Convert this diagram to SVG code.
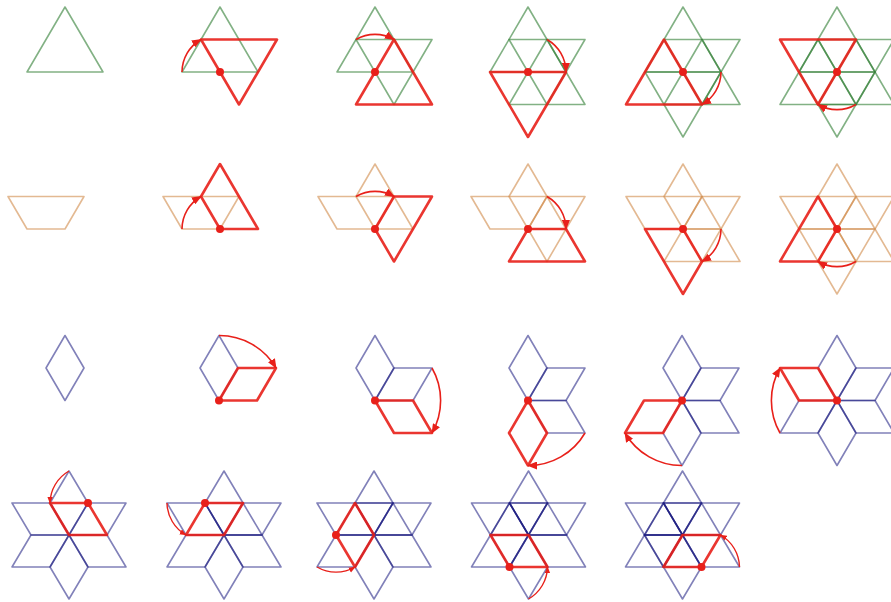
<svg xmlns="http://www.w3.org/2000/svg" width="891" height="602" viewBox="0 0 891 602">
<style>
.g{fill:none;stroke:#2e7d32;stroke-opacity:.6;stroke-width:1.6;stroke-linejoin:round}
.t{fill:none;stroke:#d08a4a;stroke-opacity:.6;stroke-width:1.6;stroke-linejoin:round}
.b{fill:none;stroke:#1a1a80;stroke-opacity:.55;stroke-width:1.6;stroke-linejoin:round}
.r{fill:none;stroke:#e8201a;stroke-opacity:.9;stroke-width:2.6;stroke-linejoin:round}
.d{fill:#e8201a}
.a{fill:none;stroke:#e8201a;stroke-width:1.6;marker-end:url(#ah)}
.a4{fill:none;stroke:#e8201a;stroke-width:1.4;marker-end:url(#ah4)}
</style>
<defs>
<marker id="ah" viewBox="0 0 10 8" refX="9" refY="4" markerWidth="10" markerHeight="8" markerUnits="userSpaceOnUse" orient="auto"><path d="M0,0L10,4L0,8z" fill="#e8201a"/></marker>
<marker id="ah4" viewBox="0 0 10 8" refX="9" refY="4" markerWidth="7" markerHeight="6" markerUnits="userSpaceOnUse" orient="auto"><path d="M0,0L10,4L0,8z" fill="#e8201a"/></marker>
<polygon id="t0" points="0,-65 -38,0 38,0"/>
<polygon id="t1" points="57,-32.5 -19,-32.5 19,32.5"/>
<polygon id="t2" points="57,32.5 19,-32.5 -19,32.5"/>
<polygon id="t3" points="0,65 38,0 -38,0"/>
<polygon id="t4" points="-57,32.5 19,32.5 -19,-32.5"/>
<polygon id="t5" points="-57,-32.5 -19,32.5 19,-32.5"/>
<polygon id="s0" points="-57,-32.5 19,-32.5 0,0 -38,0"/>
<polygon id="s1" points="0,-65 38,0 0,0 -19,-32.5"/>
<polygon id="s2" points="57,-32.5 19,32.5 0,0 19,-32.5"/>
<polygon id="s3" points="57,32.5 -19,32.5 0,0 38,0"/>
<polygon id="s4" points="0,65 -38,0 0,0 19,32.5"/>
<polygon id="s5" points="-57,32.5 -19,-32.5 0,0 -19,32.5"/>
<polygon id="q0" points="0,0 -19,-32.5 0,-65 19,-32.5"/>
<polygon id="q1" points="0,0 19,-32.5 57,-32.5 38,0"/>
<polygon id="q2" points="0,0 38,0 57,32.5 19,32.5"/>
<polygon id="q3" points="0,0 19,32.5 0,65 -19,32.5"/>
<polygon id="q4" points="0,0 -19,32.5 -57,32.5 -38,0"/>
<polygon id="q5" points="0,0 -38,0 -57,-32.5 -19,-32.5"/>
<polygon id="w0" points="0,0 -19,-32 0,-64 19,-32"/>
<polygon id="w1" points="0,0 19,-32 57,-32 38,0"/>
<polygon id="w2" points="0,0 38,0 57,32 19,32"/>
<polygon id="w3" points="0,0 19,32 0,64 -19,32"/>
<polygon id="w4" points="0,0 -19,32 -57,32 -38,0"/>
<polygon id="w5" points="0,0 -38,0 -57,-32 -19,-32"/>
<g id="star"><use href="#w0"/><use href="#w1"/><use href="#w2"/><use href="#w3"/><use href="#w4"/><use href="#w5"/></g>
<polygon id="p1" points="-19,-32 19,-32 38,0 0,0"/>
<polygon id="p2" points="-19,-32 19,-32 0,0 -38,0"/>
<polygon id="p3" points="-19,-32 0,0 -19,32 -38,0"/>
<polygon id="p4" points="-38,0 0,0 19,32 -19,32"/>
<polygon id="p5" points="0,0 38,0 19,32 -19,32"/>
</defs>

<!-- Row 1: triangles -->
<g id="r1p1" transform="translate(65,72)"><use href="#t0" class="g"/></g>
<g id="r1p2" transform="translate(220,72)"><use href="#t0" class="g"/><use href="#t1" class="r"/><circle r="4" class="d"/></g>
<g id="r1p3" transform="translate(375,72)"><use href="#t0" class="g"/><use href="#t1" class="g"/><use href="#t2" class="r"/><circle r="4" class="d"/></g>
<g id="r1p4" transform="translate(528,72)"><use href="#t0" class="g"/><use href="#t1" class="g"/><use href="#t2" class="g"/><use href="#t3" class="r"/><circle r="4" class="d"/></g>
<g id="r1p5" transform="translate(683,72)"><use href="#t0" class="g"/><use href="#t1" class="g"/><use href="#t2" class="g"/><use href="#t3" class="g"/><use href="#t4" class="r"/><circle r="4" class="d"/></g>
<g id="r1p6" transform="translate(837,72)"><use href="#t0" class="g"/><use href="#t1" class="g"/><use href="#t2" class="g"/><use href="#t3" class="g"/><use href="#t4" class="g"/><use href="#t5" class="r"/><circle r="4" class="d"/></g>

<!-- Row 2: trapezoids -->
<g id="r2p1" transform="translate(65,229)"><use href="#s0" class="t"/></g>
<g id="r2p2" transform="translate(220,229)"><use href="#s0" class="t"/><use href="#s1" class="r"/><circle r="4" class="d"/></g>
<g id="r2p3" transform="translate(375,229)"><use href="#s0" class="t"/><use href="#s1" class="t"/><use href="#s2" class="r"/><circle r="4" class="d"/></g>
<g id="r2p4" transform="translate(528,229)"><use href="#s0" class="t"/><use href="#s1" class="t"/><use href="#s2" class="t"/><use href="#s3" class="r"/><circle r="4" class="d"/></g>
<g id="r2p5" transform="translate(683,229)"><use href="#s0" class="t"/><use href="#s1" class="t"/><use href="#s2" class="t"/><use href="#s3" class="t"/><use href="#s4" class="r"/><circle r="4" class="d"/></g>
<g id="r2p6" transform="translate(837,229)"><use href="#s0" class="t"/><use href="#s1" class="t"/><use href="#s2" class="t"/><use href="#s3" class="t"/><use href="#s4" class="t"/><use href="#s5" class="r"/><circle r="4" class="d"/></g>

<!-- Row 3: rhombi -->
<g id="r3p1" transform="translate(65,400.5)"><use href="#q0" class="b"/></g>
<g id="r3p2" transform="translate(219,400.5)"><use href="#q0" class="b"/><use href="#q1" class="r"/><circle r="4" class="d"/></g>
<g id="r3p3" transform="translate(375,400.5)"><use href="#q0" class="b"/><use href="#q1" class="b"/><use href="#q2" class="r"/><circle r="4" class="d"/></g>
<g id="r3p4" transform="translate(528,400.5)"><use href="#q0" class="b"/><use href="#q1" class="b"/><use href="#q2" class="b"/><use href="#q3" class="r"/><circle r="4" class="d"/></g>
<g id="r3p5" transform="translate(682,400.5)"><use href="#q0" class="b"/><use href="#q1" class="b"/><use href="#q2" class="b"/><use href="#q3" class="b"/><use href="#q4" class="r"/><circle r="4" class="d"/></g>
<g id="r3p6" transform="translate(837,400.5)"><use href="#q0" class="b"/><use href="#q1" class="b"/><use href="#q2" class="b"/><use href="#q3" class="b"/><use href="#q4" class="b"/><use href="#q5" class="r"/><circle r="4" class="d"/></g>

<!-- Row 4: star of rhombi -->
<g id="r4p1" transform="translate(69,535)"><use href="#star" class="b"/><use href="#p1" class="r"/><circle cx="19" cy="-32" r="4" class="d"/></g>
<g id="r4p2" transform="translate(224,535)"><use href="#star" class="b"/><use href="#p1" class="b"/><use href="#p2" class="r"/><circle cx="-19" cy="-32" r="4" class="d"/></g>
<g id="r4p3" transform="translate(374,535)"><use href="#star" class="b"/><use href="#p1" class="b"/><use href="#p2" class="b"/><use href="#p3" class="r"/><circle cx="-38" cy="0" r="4" class="d"/></g>
<g id="r4p4" transform="translate(528.5,535)"><use href="#star" class="b"/><use href="#p1" class="b"/><use href="#p2" class="b"/><use href="#p3" class="b"/><use href="#p4" class="r"/><circle cx="-19" cy="32" r="4" class="d"/></g>
<g id="r4p5" transform="translate(682.5,535)"><use href="#star" class="b"/><use href="#p1" class="b"/><use href="#p2" class="b"/><use href="#p3" class="b"/><use href="#p4" class="b"/><use href="#p5" class="r"/><circle cx="19" cy="32" r="4" class="d"/></g>

<g id="connectors">
<path class="a" transform="translate(220,72)" d="M-38,0A37.7 37.7 0 0 1 -19,-32.5"/>
<path class="a" transform="translate(375,72)" d="M-19,-32.5A37.7 37.7 0 0 1 19,-32.5"/>
<path class="a" transform="translate(528,72)" d="M19,-32.5A37.7 37.7 0 0 1 38,0"/>
<path class="a" transform="translate(683,72)" d="M38,0A37.7 37.7 0 0 1 19,32.5"/>
<path class="a" transform="translate(837,72)" d="M19,32.5A37.7 37.7 0 0 1 -19,32.5"/>
<path class="a" transform="translate(220,229)" d="M-38,0A37.7 37.7 0 0 1 -19,-32.5"/>
<path class="a" transform="translate(375,229)" d="M-19,-32.5A37.7 37.7 0 0 1 19,-32.5"/>
<path class="a" transform="translate(528,229)" d="M19,-32.5A37.7 37.7 0 0 1 38,0"/>
<path class="a" transform="translate(683,229)" d="M38,0A37.7 37.7 0 0 1 19,32.5"/>
<path class="a" transform="translate(837,229)" d="M19,32.5A37.7 37.7 0 0 1 -19,32.5"/>
<path class="a" transform="translate(219,400.5)" d="M0,-65A65.6 65.6 0 0 1 57,-32.5"/>
<path class="a" transform="translate(375,400.5)" d="M57,-32.5A65.6 65.6 0 0 1 57,32.5"/>
<path class="a" transform="translate(528,400.5)" d="M57,32.5A65.6 65.6 0 0 1 0,65"/>
<path class="a" transform="translate(682,400.5)" d="M0,65A65.6 65.6 0 0 1 -57,32.5"/>
<path class="a" transform="translate(837,400.5)" d="M-57,32.5A65.6 65.6 0 0 1 -57,-32.5"/>
<path class="a4" transform="translate(69,535)" d="M0,-64A37.6 37.6 0 0 0 -19,-32"/>
<path class="a4" transform="translate(224,535)" d="M-57,-32A37.6 37.6 0 0 0 -38,0"/>
<path class="a4" transform="translate(374,535)" d="M-57,32A37.6 37.6 0 0 0 -19,32"/>
<path class="a4" transform="translate(528.5,535)" d="M0,64A37.6 37.6 0 0 0 19,32"/>
<path class="a4" transform="translate(682.5,535)" d="M57,32A37.6 37.6 0 0 0 38,0"/>
</g>
</svg>
